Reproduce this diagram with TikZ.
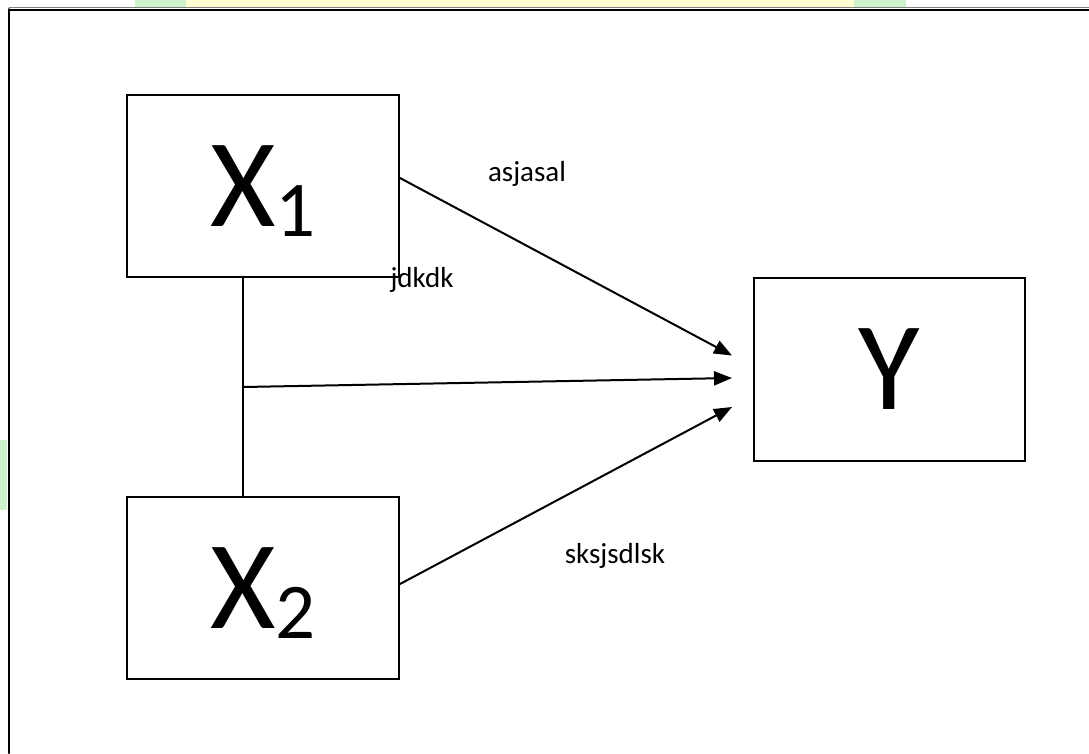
\documentclass[tikz,border=0pt]{standalone}
\usepackage{fontspec}
\setmainfont{Carlito}
\usetikzlibrary{arrows.meta}
\definecolor{stripgreen}{RGB}{205,242,205}
\definecolor{stripyellow}{RGB}{255,255,210}
\begin{document}
\begin{tikzpicture}[x=1pt,y=-1pt,line cap=round]
        % Styles
        \tikzstyle{var box}=[draw,line width=2pt,inner sep=0pt,minimum width=272pt,minimum height=182pt,text depth=0pt,font=\fontsize{126}{126}\selectfont]
        \tikzstyle{path line}=[line width=2pt]
        \tikzstyle{path arrow}=[path line,-{Triangle[length=18pt,width=14pt]}]
        \tikzstyle{path label}=[anchor=base,inner sep=0pt,font=\fontsize{29}{29}\selectfont]
        \newcommand{\subidx}[1]{\raisebox{-10pt}{\fontsize{79}{79}\selectfont #1}}
        %page
        \useasboundingbox (0,0) rectangle (1089,753);
        \fill[stripgreen] (135,0) rectangle (186,8);
        \fill[stripyellow] (186,0) rectangle (854,8);
        \fill[stripgreen] (854,0) rectangle (906,8);
        \fill[stripgreen] (0,440) rectangle (7,510);
        \draw[gray,line width=1pt] (9,7.5) -- (1089,7.5);
        \draw[line width=2pt] (9,10) -- (1089,10);
        \draw[line width=2pt] (9,9) -- (9,753);
        %variables
        \node[var box] (x1) at (263,186) {X\subidx{1}};
        \node[var box] (x2) at (263,588) {X\subidx{2}};
        \node[var box,minimum width=271pt,minimum height=183pt] (y) at (889.5,369.5) {Y};
        %paths
        \draw[path line] ([xshift=-20pt]x1.south) -- ([xshift=-20pt]x2.north) coordinate[pos=0.5] (join);
        \draw[path arrow] ([yshift=8pt]x1.east) -- ([xshift=-21pt,yshift=14pt]y.west);
        \draw[path arrow] (join) -- ([xshift=-21pt,yshift=-8.5pt]y.west);
        \draw[path arrow] ([yshift=4pt]x2.east) -- ([xshift=-21pt,yshift=-37.5pt]y.west);
        %labels
        \node[path label] (lab1) at (527,181) {asjasal};
        \node[path label] (lab2) at (422,287) {jdkdk};
        \node[path label] (lab3) at (615,563) {sksjsdlsk};
\end{tikzpicture}
\end{document}
